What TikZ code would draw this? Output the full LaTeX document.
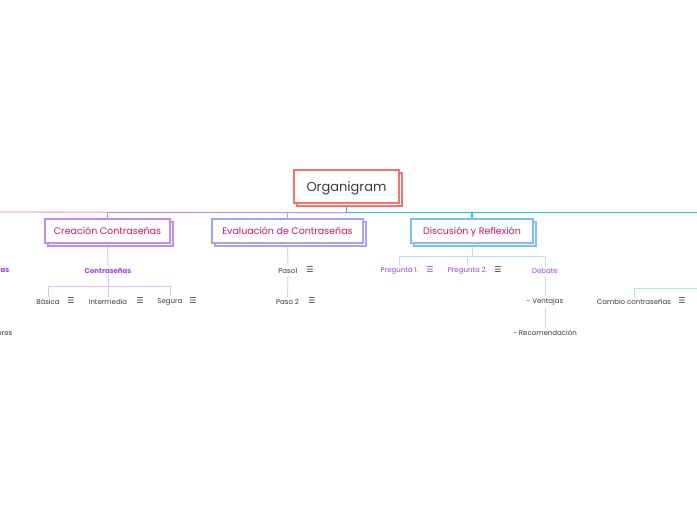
\documentclass[tikz,border=0pt]{standalone}
\usepackage{fontspec}
\setmainfont{Poppins}
\newfontfamily\symfont{DejaVu Sans}
\usetikzlibrary{shadows,backgrounds}
\definecolor{salmon}{HTML}{F7726B}
\definecolor{crimson}{HTML}{E0115F}
\definecolor{cpurple}{HTML}{C58AF2}
\definecolor{clav}{HTML}{A3A3FF}
\definecolor{cblue}{HTML}{7CC0F5}
\definecolor{ccyan}{HTML}{1FCDE0}
\definecolor{cpink}{HTML}{F9B4D9}
\definecolor{tpurple}{HTML}{A43DF5}
\definecolor{tgray}{HTML}{3A3A3A}
\definecolor{lpurple}{HTML}{E3BFF5}
\definecolor{llav}{HTML}{D3D3FF}
\definecolor{lblue}{HTML}{BCDDF7}
\definecolor{lcyan}{HTML}{A5EEF3}
\tikzset{
  x=1pt, y=-1pt,
  rootbox/.style={draw=salmon, line width=1.4pt, fill=white,
    copy shadow={shadow xshift=3pt, shadow yshift=-3pt},
    minimum width=105pt, minimum height=33pt, inner sep=0pt, text depth=0pt,
    font=\fontsize{13}{15}\selectfont, text=tgray},
  topicbox/.style={draw=#1, line width=1.1pt, fill=white,
    copy shadow={shadow xshift=3pt, shadow yshift=-3pt},
    minimum height=24pt, inner sep=0pt, text depth=0pt,
    font=\fontsize{9.5}{11}\selectfont, text=crimson},
  sub/.style={font=\fontsize{7}{8}\selectfont, text=tgray, inner sep=2pt},
  subp/.style={font=\fontsize{7}{8}\selectfont\bfseries, text=tpurple, inner sep=2pt},
  subq/.style={font=\fontsize{7}{8}\selectfont, text=tpurple, inner sep=2pt},
  ico/.style={font=\fontsize{8}{9}\selectfont\symfont, text=tgray, inner sep=0pt},
  main/.style={line width=1.3pt},
  thin/.style={line width=1pt},
}
\begin{document}
\begin{tikzpicture}
\useasboundingbox (0,0) rectangle (697,520);

% root
\node[rootbox] (org) at (346.5,186.5) {Organigram};

% level 1
\node[topicbox=cpurple, minimum width=125pt] (crea) at (107.5,231) {Creación Contraseñas};
\node[topicbox=clav, minimum width=151pt] (eval) at (287.5,231) {Evaluación de Contraseñas};
\node[topicbox=cblue, minimum width=122pt] (disc) at (472,231) {Discusión y Reflexión};
\node[draw=ccyan, line width=1.1pt, fill=white, minimum width=60pt, minimum height=24pt, inner sep=0pt] (rbox) at (727.5,231) {};

% offscreen left fragments
\node[subp, anchor=east, inner sep=0pt] (lfrag) at (9.5,271) {ras};
\node[sub, anchor=east, inner sep=0pt] (lfrag2) at (12.5,334) {eres};

% creación children
\node[subp] (contr) at (108,271) {Contraseñas};
\node[sub] (basica) at (48,302) {Básica};
\node[ico] (ibasica) at (71,301) {☰};
\node[sub] (inter) at (108,302) {Intermedia};
\node[ico] (iinter) at (140,301) {☰};
\node[sub] (segura) at (170,302) {Segura};
\node[ico] (isegura) at (193,301) {☰};

% evaluación children
\node[sub] (paso1) at (288,271) {Paso1};
\node[ico] (ipaso1) at (310,270) {☰};
\node[sub] (paso2) at (287.5,302) {Paso 2};
\node[ico] (ipaso2) at (312,301) {☰};

% discusión children
\node[subq] (p1) at (399.5,271) {Pregunta 1.};
\node[ico, text=tpurple] (ip1) at (430,270) {☰};
\node[subq] (p2) at (467.5,271) {Pregunta 2.};
\node[ico] (ip2) at (498,270) {☰};
\node[subq] (deb) at (545,271) {Debate};
\node[sub] (vent) at (545,302) {- Ventajas};
\node[sub] (reco) at (545,333) {- Recomendación};

% right
\node[sub] (cambio) at (634,302) {Cambio contraseñas};
\node[ico] (icambio) at (682,301) {☰};
\coordinate (offL) at (-10,212);
\coordinate (offR) at (710,288);

\begin{scope}[on background layer]
\fill[white] (0,0) rectangle (697,520);
% main connectors
\draw[main, cpink] (org.south) -- ++(0,9) -- (offL);
\draw[main, cpurple] (org.south) -- ++(0,9) -| (crea.north);
\draw[main, clav] (org.south) -- ++(0,9) -| (eval.north);
\draw[main, ccyan] (org.south) -- ++(0,9) -| (rbox.north);
\draw[main, ccyan] (org.south) -- ++(0,9) -| (disc.north);
% creación
\draw[thin, lpurple] (crea.south) -- (contr.north);
\draw[thin, lpurple] (contr.south) -- ++(0,11) -| (basica.north);
\draw[thin, lpurple] (contr.south) -- (inter.north);
\draw[thin, lpurple] (contr.south) -- ++(0,11) -| (segura.north);
% evaluación
\draw[thin, llav] (eval.south) -- (paso1.north);
\draw[thin, llav] (paso1.south) -- (paso2.north);
% discusión
\draw[thin, lblue] (disc.south) -- ++(0,13) -| (p1.north);
\draw[thin, lblue] (disc.south) -- ++(0,13) -| (p2.north);
\draw[thin, lblue] (disc.south) -- ++(0,13) -| (deb.north);
\draw[thin, lblue] (deb.south) -- (vent.north);
\draw[thin, lblue] (vent.south) -- (reco.north);
% right
\draw[thin, lcyan] (offR) -| (cambio.north);
\end{scope}
\end{tikzpicture}
\end{document}
